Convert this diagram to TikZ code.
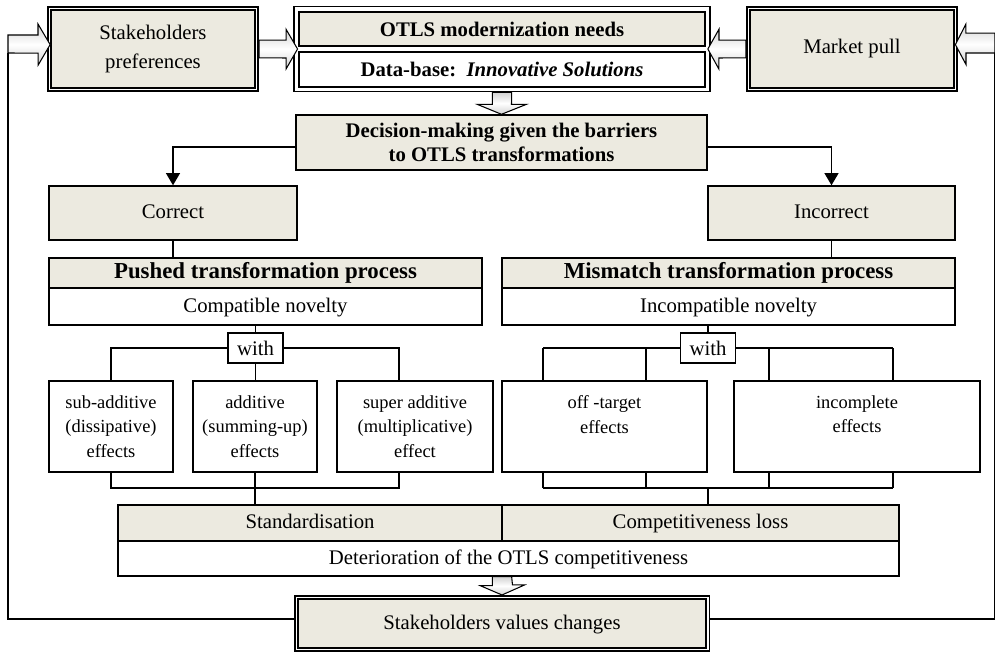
\documentclass[tikz,border=0pt]{standalone}
\usepackage{fontspec}
\setmainfont{Liberation Serif}
\usetikzlibrary{arrows.meta}
\definecolor{beige}{RGB}{236,234,224}

\begin{document}
\begin{tikzpicture}[x=0.02cm, y=-0.02cm,
  box/.style={draw, line width=0.8pt, fill=beige, align=center, inner sep=0pt, font=\fontsize{11.8}{16}\selectfont},
  cell/.style={box, fill=white},
  dblbox/.style={box, line width=1pt, double, double distance=0.9pt, outer sep=1.45pt},
  effbox/.style={cell, font=\fontsize{10.5}{14}\selectfont},
  head/.style={font=\bfseries\fontsize{11.8}{13.5}\selectfont},
  bighead/.style={font=\bfseries\fontsize{13}{15}\selectfont},
  blockarr/.style={draw, line width=0.6pt, top color=gray!35, bottom color=gray!35, middle color=white},
  arr/.style={-{Triangle[width=8pt,length=7pt]}, line width=0.8pt},
  conn/.style={line width=0.8pt}]

\useasboundingbox (0,0) rectangle (995,653);

\node[dblbox, minimum width=4.14cm, minimum height=1.62cm] (stake) at (153,49) {Stakeholders\\preferences};
\node[dblbox, minimum width=4.14cm, minimum height=1.62cm] (market) at (852,49) {Market pull};
\node[draw, line width=1pt, minimum width=8.32cm, minimum height=1.70cm] (otls) at (502,49) {};
\node[box, line width=1pt, head, minimum width=8.12cm, minimum height=0.69cm] (needs) at (502,29) {OTLS modernization needs};
\node[cell, line width=1pt, head, minimum width=8.12cm, minimum height=0.71cm] (dbase) at (502,69.5) {Data-base:\ \ \textit{Innovative Solutions}};

\node[box, head, minimum width=8.22cm, minimum height=1.10cm] (decide) at (501.5,142.5) {Decision-making given the barriers\\to OTLS transformations};
\node[box, minimum width=4.96cm, minimum height=1.08cm] (correct) at (173,213) {Correct\strut};
\node[box, minimum width=4.94cm, minimum height=1.08cm] (incorrect) at (831.5,213) {Incorrect\strut};

\node[box, bighead, minimum width=8.66cm, minimum height=0.60cm] (pushA) at (265.5,273) {Pushed transformation process\strut};
\node[cell, minimum width=8.66cm, minimum height=0.74cm] (pushB) at (265.5,306.5) {Compatible novelty\strut};
\node[box, bighead, minimum width=9.06cm, minimum height=0.60cm] (mismA) at (728.5,273) {Mismatch transformation process\strut};
\node[cell, minimum width=9.06cm, minimum height=0.74cm] (mismB) at (728.5,306.5) {Incompatible novelty\strut};

\node[cell, minimum width=1.1cm, minimum height=0.6cm] (with1) at (255.5,348) {with};
\node[cell, minimum width=1.1cm, minimum height=0.6cm] (with2) at (708,348) {with};

\node[effbox, minimum width=2.48cm, minimum height=1.82cm] (e1) at (111,426.5) {sub-additive\\(dissipative)\\effects};
\node[effbox, minimum width=2.48cm, minimum height=1.82cm] (e2) at (255,426.5) {additive\\(summing-up)\\effects};
\node[effbox, minimum width=3.12cm, minimum height=1.82cm] (e3) at (415,426.5) {super additive\\(multiplicative)\\effect};
\node[effbox, minimum width=4.10cm, minimum height=1.82cm] (e4) at (604.5,426.5) {off -target\\effects\\~};
\node[effbox, minimum width=4.92cm, minimum height=1.82cm] (e5) at (857,426.5) {incomplete\\effects\\~};

\node[cell, minimum width=15.62cm, minimum height=0.70cm] (deter) at (508.5,558.5) {Deterioration of the OTLS competitiveness\strut};
\node[box, minimum width=7.68cm, minimum height=0.72cm] (stand) at (310,523) {Standardisation\strut};
\node[box, minimum width=7.94cm, minimum height=0.72cm] (comploss) at (700.5,523) {Competitiveness loss\strut};

\node[dblbox, minimum width=8.23cm, minimum height=1.04cm] (values) at (502,623.5) {Stakeholders values changes\strut};

\coordinate (fbl) at (8,53);
\coordinate (fbr) at (995,53);
\coordinate (dstart) at (values.north |- deter.south);

\draw[blockarr] (fbl) -- ++(0,-18) -- ++(30,0) -- ++(0,-11) -- ([xshift=1.8pt,yshift=2.5pt]stake.west) -- ++(-12,20.5) -- ++(0,-12) -- cycle;
\draw[blockarr] ([yshift=5pt]stake.east) -- ++(27,0) -- ++(0,-11) -- ([xshift=2.5pt]otls.west) -- ++(-11.5,20) -- ++(0,-11) -- ([yshift=-5pt]stake.east) -- cycle;
\draw[blockarr] ([yshift=5pt]market.west) -- ++(-27,0) -- ++(0,-11) -- ([xshift=-1.7pt]otls.east) -- ++(11,20) -- ++(0,-11) -- ([yshift=-5pt]market.west) -- cycle;
\draw[blockarr] (fbr) -- ++(-29,0) -- ++(0,11.5) -- ([xshift=-1.5pt,yshift=2.5pt]market.east) -- ++(10.5,-20.5) -- ++(0,9) -- ++(29,0) -- cycle;
\draw[blockarr] ([xshift=-5.5pt]otls.south) -- ++(0,12) -- ++(-15,0) -- (decide.north) -- ++(25,-10) -- ++(-15,0) -- ([xshift=5.5pt]otls.south) -- cycle;
\draw[blockarr] ([xshift=-5.5pt]dstart) -- ++(0,9) -- ++(-12,0) -- (values.north) -- ++(22.5,-10) -- ++(-12,0) -- ([xshift=5.5pt]dstart) -- cycle;

\draw[conn] ([yshift=2.5pt]values.west) -| (fbl);
\draw[conn] ([yshift=2.5pt]values.east) -| (fbr);

\draw[arr] ([yshift=-2.5pt]decide.west) -| (correct.north);
\draw[arr] ([yshift=-2.5pt]decide.east) -| (incorrect.north);
\draw[conn] (correct.south) -- (correct.south |- pushA.north);
\draw[conn] (incorrect.south) -- (incorrect.south |- mismA.north);

\coordinate (p3) at (399,348);
\coordinate (q3) at (399,488);
\draw[conn] (with1 |- pushB.south) -- (with1.north);
\draw[conn] (with1.west) -| (e1.north);
\draw[conn] (with1.east) -- (p3) -- (p3 |- e3.north);
\draw[conn] (with1.south) -- (with1.south |- e2.north);
\draw[conn] (e1.south) |- (q3) -- (q3 |- e3.south);
\draw[conn] (e2.south) -- (e2.south |- stand.north);

\coordinate (t1) at (543,348);
\coordinate (t2) at (646,348);
\coordinate (t3) at (769,348);
\coordinate (t4) at (893,348);
\coordinate (b1) at (543,488);
\coordinate (b4) at (893,488);
\draw[conn] (with2 |- mismB.south) -- (with2.north);
\draw[conn] (t1) -- (with2.west);
\draw[conn] (with2.east) -- (t4);
\foreach \t in {t1,t2} \draw[conn] (\t) -- (\t |- e4.north);
\foreach \t in {t3,t4} \draw[conn] (\t) -- (\t |- e5.north);
\draw[conn] (b1) -- (b4);
\foreach \t in {t1,t2} \draw[conn] (\t |- b1) -- (\t |- e4.south);
\foreach \t in {t3,t4} \draw[conn] (\t |- b1) -- (\t |- e5.south);
\draw[conn] (with2 |- b1) -- (with2 |- comploss.north);

\end{tikzpicture}
\end{document}
